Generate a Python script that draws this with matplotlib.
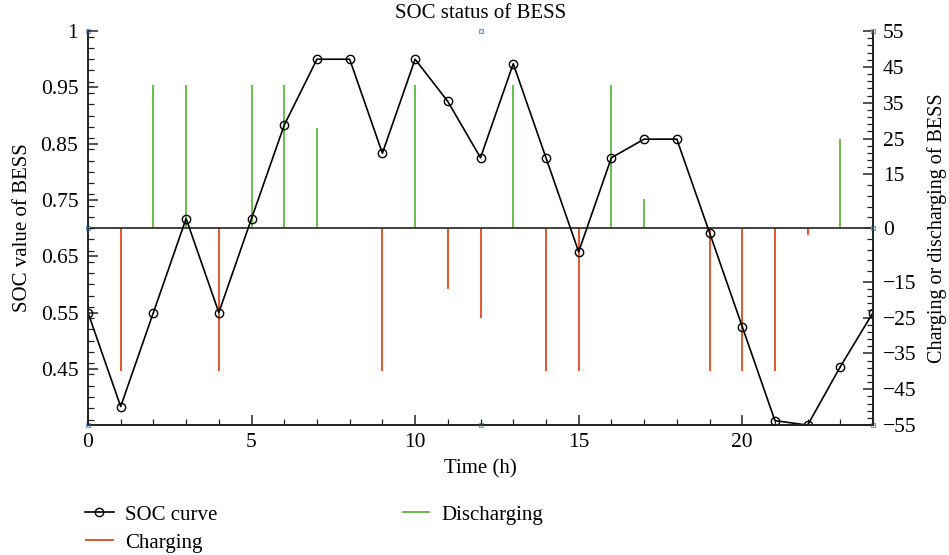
import matplotlib
matplotlib.use("Agg")
import matplotlib.pyplot as plt
from matplotlib.ticker import FixedLocator, FixedFormatter, MultipleLocator

plt.rcParams['font.family'] = ['Liberation Serif', 'DejaVu Serif']

# ---- data ----
hours = list(range(25))
soc = [0.55, 0.383, 0.55, 0.717, 0.55, 0.717, 0.883, 1.0, 1.0, 0.833, 1.0, 0.925,
       0.825, 0.992, 0.825, 0.658, 0.825, 0.858, 0.858, 0.692, 0.525, 0.358, 0.35,
       0.454, 0.55]
bar_hours = list(range(24))
power = [0, -40, 40, 40, -40, 40, 40, 28, 0, -40, 40, -17, -25, 40, -40, -40,
         40, 8, 0, -40, -40, -40, -2, 25]

left_tick_pos = [1.05, 0.95, 0.85, 0.75, 0.65, 0.55, 0.45]
left_tick_lab = ['1', '0.95', '0.85', '0.75', '0.65', '0.55', '0.45']
right_tick_pos = [55, 45, 35, 25, 15, 0, -15, -25, -35, -45, -55]
right_tick_lab = ['55', '45', '35', '25', '15', '0', '\u221215', '\u221225',
                  '\u221235', '\u221245', '\u221255']

c_charge = '#E4572E'
c_dis = '#66C04A'
fs = 15.5
fs_lab = 15

fig = plt.figure(figsize=(9.49, 5.55), dpi=100)
ax = fig.add_axes([0.0927, 0.234, 0.8273, 0.710])
ax2 = ax.twinx()

# bars on right axis
ch_x = [h for h, p in zip(bar_hours, power) if p < 0]
ch_y = [p for p in power if p < 0]
dc_x = [h for h, p in zip(bar_hours, power) if p > 0]
dc_y = [p for p in power if p > 0]
ax2.vlines(ch_x, 0, ch_y, color=c_charge, lw=1.4, label='Charging')
ax2.vlines(dc_x, 0, dc_y, color=c_dis, lw=1.4, label='Discharging')
ax2.axhline(0, color='#333333', lw=1.3)

ax2.set_ylim(-55, 55)
ax2.yaxis.set_major_locator(FixedLocator(right_tick_pos))
ax2.yaxis.set_major_formatter(FixedFormatter(right_tick_lab))
minor_r = []
for a, b in zip(right_tick_pos[1:], right_tick_pos[:-1]):
    for k in range(1, 5):
        minor_r.append(a + (b - a) * k / 5)
ax2.yaxis.set_minor_locator(FixedLocator(minor_r))
ax2.set_ylabel('Charging or discharging of BESS', fontsize=14.5, labelpad=8)

# SOC on left axis
line, = ax.plot(hours, soc, color='black', lw=1.2, marker='o', ms=6,
                mfc='none', mec='black', mew=1.0, label='SOC curve')
ax.set_xlim(0, 24)
ax.set_ylim(0.35, 1.05)
ax.yaxis.set_major_locator(FixedLocator(left_tick_pos))
ax.yaxis.set_major_formatter(FixedFormatter(left_tick_lab))
ax.yaxis.set_minor_locator(MultipleLocator(0.02))
ax.xaxis.set_major_locator(MultipleLocator(5))
ax.xaxis.set_minor_locator(MultipleLocator(1))
ax.set_xlabel('Time (h)', fontsize=fs_lab, labelpad=5)
ax.set_ylabel('SOC value of BESS', fontsize=fs_lab, labelpad=6)
fig.text(0.5064, 0.975, 'SOC status of BESS', fontsize=fs_lab,
         ha='center', va='center')

ax.set_zorder(ax2.get_zorder() + 1)
ax.patch.set_visible(False)

for a in (ax, ax2):
    a.spines['top'].set_visible(False)
    for s in a.spines.values():
        s.set_linewidth(1.2)
        s.set_color('#222222')
ax.tick_params(axis='both', which='both', direction='in', labelsize=fs,
               top=False, right=False, color='#222222')
ax.tick_params(axis='y', which='major', pad=7)
ax.tick_params(axis='x', which='major', pad=6)
ax.tick_params(which='major', length=7, width=1.1)
ax.tick_params(which='minor', length=4, width=0.9)
ax2.tick_params(axis='y', which='both', direction='in', labelsize=fs,
                color='#222222')
ax2.tick_params(which='major', length=7, width=1.1, pad=7)
ax2.tick_params(which='minor', length=4, width=0.9)

# selection handles seen in the reference
hx = [0, 0, 0, 0.5, 0.5, 1, 1, 1]
hy = [0, 0.5, 1, 0, 1, 0, 0.5, 1]
ax2.plot(hx, hy, ls='none', marker='s', ms=3.5, mfc='#DCE8F5', mec='#6A9FD4',
         mew=0.8, transform=ax2.transAxes, clip_on=False, zorder=10)

h1, l1 = ax.get_legend_handles_labels()
h2, l2 = ax2.get_legend_handles_labels()
fig.legend(h1 + h2, l1 + l2, loc='upper left', bbox_to_anchor=(0.090, 0.090),
           ncol=2, frameon=False, fontsize=fs_lab, handlelength=1.35,
           handletextpad=0.55, columnspacing=8.85, labelspacing=0.4,
           borderpad=0, borderaxespad=0)

fig.savefig('out.png', dpi=100)
